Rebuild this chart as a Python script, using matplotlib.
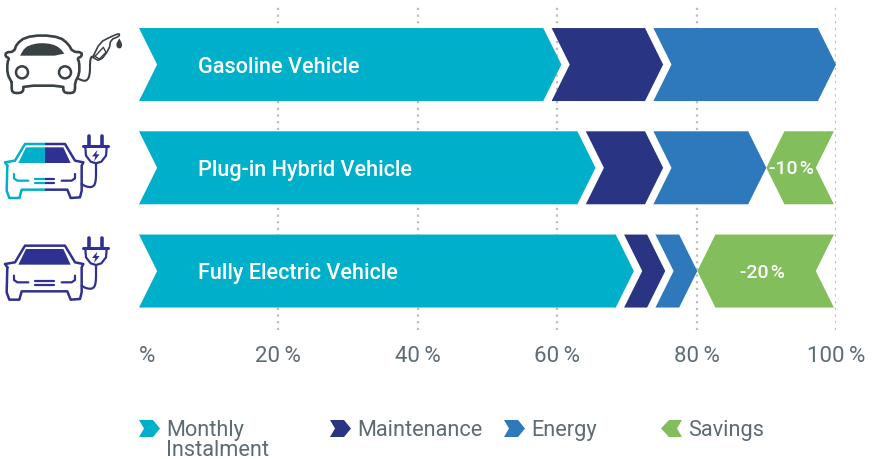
import numpy as np
import matplotlib
matplotlib.use("Agg")
import matplotlib.pyplot as plt
from matplotlib.patches import Polygon, Circle, Rectangle

plt.rcParams['font.family'] = ['Roboto', 'DejaVu Sans']

vehicles = ['Gasoline Vehicle', 'Plug-in Hybrid Vehicle', 'Fully Electric Vehicle']
monthly = [60.6, 65.5, 71.0]
maintenance = [14.6, 9.7, 4.5]
energy = [24.8, 14.8, 4.6]
savings = [0, 10, 20]
savings_labels = ['', '-10\u200a%', '-20\u200a%']
ticks = [0, 20, 40, 60, 80, 100]
tick_labels = ['%', '20\u2009%', '40\u2009%', '60\u2009%', '80\u2009%', '100\u2009%']
legend_names = ['Monthly\nInstalment', 'Maintenance', 'Energy', 'Savings']

CYAN = '#00afc9'
NAVY = '#293583'
BLUE = '#2e78bc'
GREEN = '#82be5c'
GREY = '#5d6b73'
DARK = '#3a4145'
ICON_NAVY = '#2e3191'

W, H = 874, 460
DEPTH = 2.6   # chevron point, in % units
GAP = 1.2
BAR_H = 0.707

fig = plt.figure(figsize=(W / 100, H / 100), dpi=100, facecolor='white')
ax = fig.add_axes([139 / W, 1 - 331 / H, 697 / W, 324 / H])
ax.set_xlim(0, 100)
ax.set_ylim(2.571, -0.567)
for s in ax.spines.values():
    s.set_visible(False)
ax.set_yticks([])
ax.set_xticks(ticks)
ax.set_xticklabels(tick_labels, fontsize=16, color=GREY)
ax.tick_params(axis='x', length=0, pad=11)
ax.get_xticklabels()[0].set_ha('left')
for t in ticks[1:]:
    ax.axvline(t, color='#bdbdbd', lw=1.6, ls=(0, (1, 2)), zorder=0)


def chevron(start, end, row, color, first=False):
    top, bot = row - BAR_H / 2, row + BAR_H / 2
    notch = DEPTH if first else start + GAP
    left = notch - DEPTH
    pts = [(left, top), (end - DEPTH, top), (end, row), (end - DEPTH, bot), (left, bot), (notch, row)]
    ax.add_patch(Polygon(pts, closed=True, fc=color, ec='none', zorder=2, clip_on=False))


def back_chevron(start, end, row, color):
    top, bot = row - BAR_H / 2, row + BAR_H / 2
    pts = [(start, row), (start + DEPTH, top), (end, top), (end - DEPTH, row), (end, bot), (start + DEPTH, bot)]
    ax.add_patch(Polygon(pts, closed=True, fc=color, ec='none', zorder=2, clip_on=False))


label_pos = [0, 93.6, 89.4]
for i, name in enumerate(vehicles):
    a = monthly[i]
    b = a + maintenance[i]
    c = b + energy[i]
    chevron(0, a, i, CYAN, first=True)
    chevron(a, b, i, NAVY)
    chevron(b, c, i, BLUE)
    ax.text(8.46, i + 0.015, name, color='white', fontsize=15.6, fontweight='medium', va='center', ha='left', zorder=3)
    if savings[i] > 0:
        back_chevron(c, 99.7, i, GREEN)
        ax.text(label_pos[i], i + 0.005, savings_labels[i], color='white', fontsize=14, fontweight='medium',
                va='center', ha='center', zorder=3)

# overlay in pixels for the icons and legend
ov = fig.add_axes([0, 0, 1, 1], facecolor='none')
ov.set_xlim(0, W)
ov.set_ylim(H, 0)
ov.axis('off')


def z(points, dy=0):
    p = np.array(points, dtype=float)
    return p[:, 0] / 3, (p[:, 1] + dy) / 3 + 20


def soften(points, n=2):
    # corner cutting so the outlines come out round
    p = np.array(points, dtype=float)
    for _ in range(n):
        q = [p[0]]
        for u, v in zip(p[:-1], p[1:]):
            q.append(u * 0.75 + v * 0.25)
            q.append(u * 0.25 + v * 0.75)
        q.append(p[-1])
        p = np.array(q)
    return p


def line(points, color, lw=1.6, dy=0, clip=None):
    x, y = z(points, dy)
    l, = ov.plot(x, y, color=color, lw=lw, solid_capstyle='round', solid_joinstyle='round')
    if clip is not None:
        l.set_clip_path(clip)


def fill(points, color, dy=0, clip=None):
    x, y = z(points, dy)
    p = Polygon(np.column_stack([x, y]), closed=True, fc=color, ec='none')
    ov.add_patch(p)
    if clip is not None:
        p.set_clip_path(clip)


# gasoline car
line(soften([(35, 190), (35, 215), (42, 222), (62, 222), (70, 215), (70, 200), (190, 200), (190, 215), (197, 222),
             (218, 222), (225, 215), (225, 190), (238, 165), (238, 130), (232, 118), (245, 112), (245, 100), (218, 98),
             (205, 75), (180, 55), (125, 48), (75, 55), (50, 75), (42, 98), (18, 100), (16, 112), (28, 118), (22, 130),
             (22, 165), (35, 190)], 1),
     DARK, lw=1.9)
fill(soften([(60, 110), (75, 85), (100, 75), (125, 72), (155, 75), (178, 85), (198, 110), (60, 110)], 1), DARK)
for cx in (66, 195):
    ov.add_patch(Circle((cx / 3, 160 / 3 + 20), 6, fc='white', ec=DARK, lw=1.8))
line(soften([(236, 180), (258, 188), (270, 170), (270, 115), (282, 112)]), DARK, lw=1.5)
line(soften([(278, 115), (300, 70), (335, 52), (358, 43), (358, 52), (332, 62), (328, 90), (300, 127), (278, 115)], 1), DARK, lw=1.2)
line([(285, 112), (310, 85), (318, 100), (298, 120), (285, 112)], DARK, lw=1.0)
fill(soften([(358, 58), (367, 75), (364, 88), (352, 88), (348, 75), (358, 58)], 1), DARK)


def electric_car(dy, color, clip=None):
    line([(22, 440), (15, 430), (45, 425), (75, 375), (195, 375), (225, 425), (250, 430), (245, 440), (245, 515),
          (240, 535), (212, 537), (202, 512), (65, 512), (58, 537), (28, 537), (20, 515), (22, 440)], color, lw=1.8, dy=dy, clip=clip)
    fill([(55, 432), (78, 385), (190, 385), (212, 432)], color, dy=dy, clip=clip)
    line([(42, 465), (42, 478), (52, 485), (85, 485)], color, dy=dy, clip=clip)
    line([(225, 465), (225, 478), (215, 485), (185, 485)], color, dy=dy, clip=clip)
    line([(105, 480), (163, 480)], color, dy=dy, clip=clip)
    line([(105, 492), (163, 492)], color, dy=dy, clip=clip)


def plug(dy, color):
    line([(250, 382), (325, 382)], color, lw=2.2, dy=dy)
    line([(256, 385), (258, 410), (272, 428), (288, 433), (304, 428), (318, 410), (320, 385)], color, dy=dy)
    line([(267, 352), (267, 378)], color, lw=2.6, dy=dy)
    line([(307, 352), (307, 378)], color, lw=2.6, dy=dy)
    line(soften([(288, 433), (288, 490), (278, 505), (258, 503), (245, 495)]), color, dy=dy)
    fill([(292, 393), (276, 412), (286, 412), (282, 427), (299, 406), (289, 406)], color, dy=dy)


left_half = Rectangle((0, 100), 45, 120, transform=ov.transData)
right_half = Rectangle((45, 100), 60, 120, transform=ov.transData)
electric_car(0, CYAN, clip=left_half)
electric_car(0, ICON_NAVY, clip=right_half)
plug(0, ICON_NAVY)
electric_car(305, ICON_NAVY)
plug(305, ICON_NAVY)

# legend
legend_x = [139, 330, 504, 661]
legend_colors = [CYAN, NAVY, BLUE, GREEN]
for k, lx in enumerate(legend_x):
    y0, y1, ym = 421, 438, 429.5
    if k == 3:
        pts = [(lx, ym), (lx + 8, y0), (lx + 21, y0), (lx + 16, ym), (lx + 21, y1), (lx + 8, y1)]
    else:
        pts = [(lx, y0), (lx + 14, y0), (lx + 21, ym), (lx + 14, y1), (lx, y1), (lx + 5, ym)]
    ov.add_patch(Polygon(pts, closed=True, fc=legend_colors[k], ec='none'))
    ov.text(lx + 27.5, 420, legend_names[k], color=GREY, fontsize=15.7, va='top', ha='left', linespacing=0.95)

plt.savefig('out.png', dpi=100)
